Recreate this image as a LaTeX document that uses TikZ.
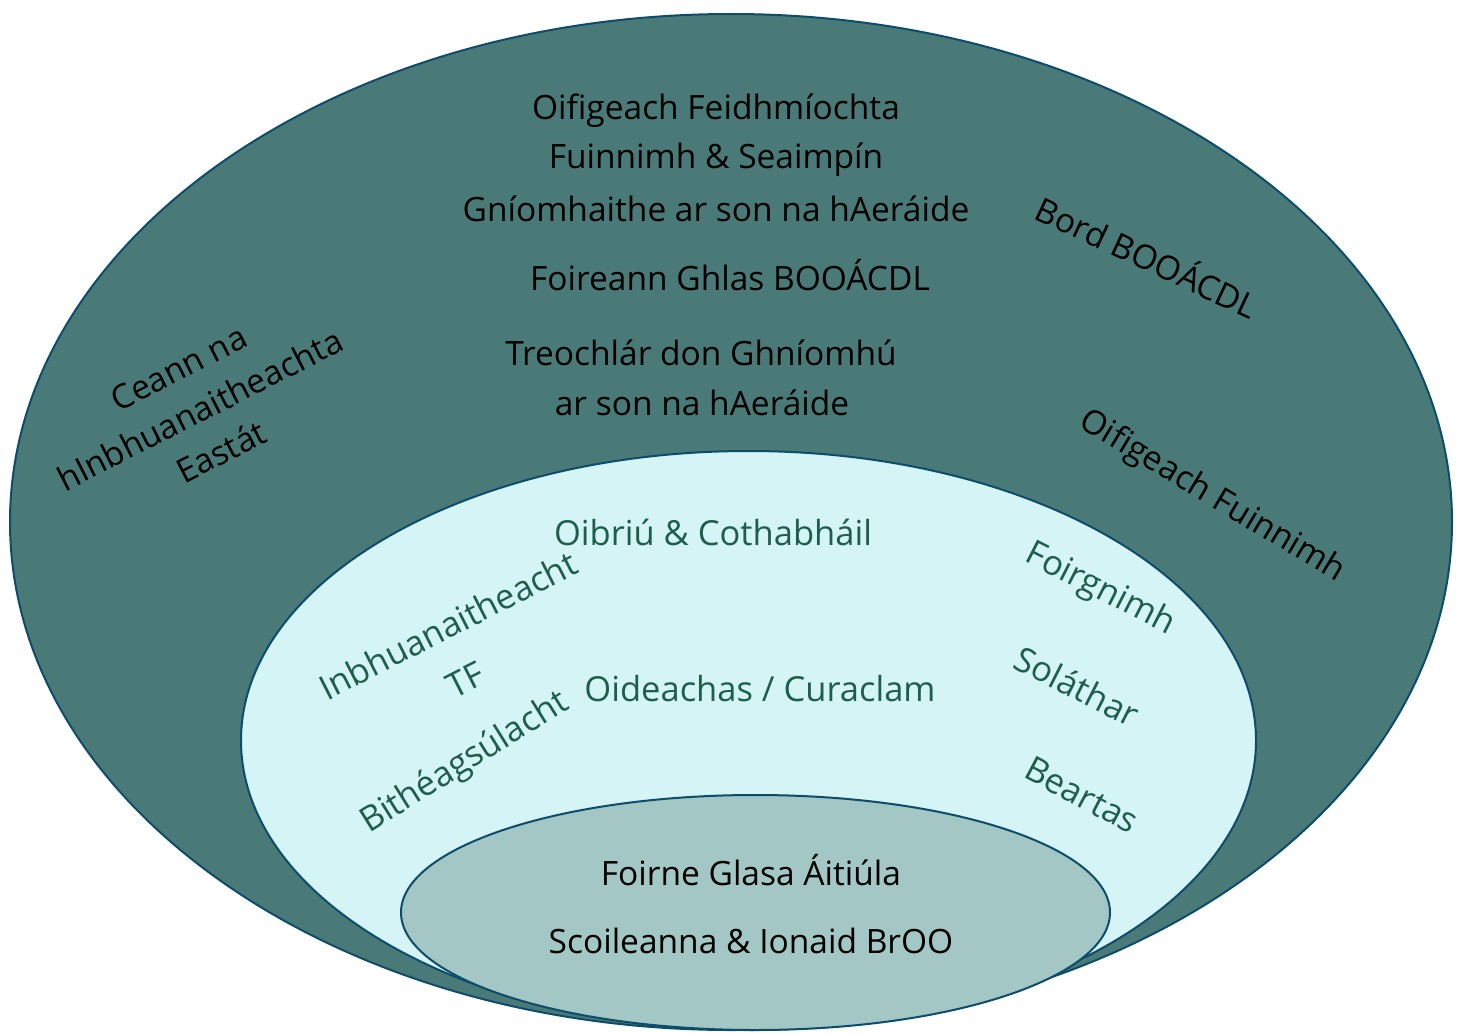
\documentclass[tikz,border=0pt]{standalone}
\usepackage{fontspec}
\setmainfont{Open Sans}
\definecolor{outerfill}{HTML}{4A7A78}
\definecolor{midfill}{HTML}{D4F4F6}
\definecolor{innerfill}{HTML}{A2C7C5}
\definecolor{edge}{HTML}{0E4C6B}
\definecolor{midtext}{HTML}{1E5E4E}
\tikzset{
  ring/.style={draw=edge, line width=2pt},
  darklbl/.style={text=black, font=\fontsize{33.5}{47}\selectfont, align=center, inner sep=0pt},
  midlbl/.style={text=midtext, font=\fontsize{34.5}{47}\selectfont, align=center, inner sep=0pt},
}
\begin{document}
\begin{tikzpicture}[x=1pt,y=-1pt]
\useasboundingbox (0,0) rectangle (1461,1033);
\path[ring, fill=outerfill] (731,522) ellipse [x radius=721, y radius=508];
\path[ring, fill=midfill] (748.5,740.5) ellipse [x radius=507.5, y radius=289.5];
\path[ring, fill=innerfill] (755.5,912.5) ellipse [x radius=354.5, y radius=117.5];

% outer ring
\node[darklbl] (t1) at (716,111) {Oifigeach Feidhmíochta};
\node[darklbl] (t2) at (716,160) {Fuinnimh \& Seaimpín};
\node[darklbl] (t3) at (716,209) {Gníomhaithe ar son na hAeráide};
\node[darklbl] (t4) at (730,275) {Foireann Ghlas BOOÁCDL};
\node[darklbl] (t5) at (701,353) {Treochlár don Ghníomhú};
\node[darklbl] (t6) at (702,403) {ar son na hAeráide};
\node[darklbl, rotate=27] (ceann) at (200,410) {Ceann na\\hInbhuanaitheachta\\Eastát};
\node[darklbl, rotate=-25] (bord) at (1148,255) {Bord BOOÁCDL};
\node[darklbl, rotate=-31] (oif) at (1212,497) {Oifigeach Fuinnimh};

% middle ring
\node[midlbl] (m1) at (713,532) {Oibriú \& Cothabháil};
\node[midlbl] (m2) at (760,689) {Oideachas / Curaclam};
\node[midlbl, rotate=27] (m3) at (448,625) {Inbhuanaitheacht};
\node[midlbl, rotate=27] (m4) at (465,680) {TF};
\node[midlbl, rotate=32] (m5) at (465,763) {Bithéagsúlacht};
\node[midlbl, rotate=-27] (m6) at (1100,590) {Foirgnimh};
\node[midlbl, rotate=-27] (m7) at (1077,686) {Soláthar};
\node[midlbl, rotate=-28] (m8) at (1082,795) {Beartas};

% inner
\node[darklbl] (i1) at (751,870) {Foirne Glasa Áitiúla};
\node[darklbl] (i2) at (751,941) {Scoileanna \& Ionaid BrOO};
\end{tikzpicture}
\end{document}
